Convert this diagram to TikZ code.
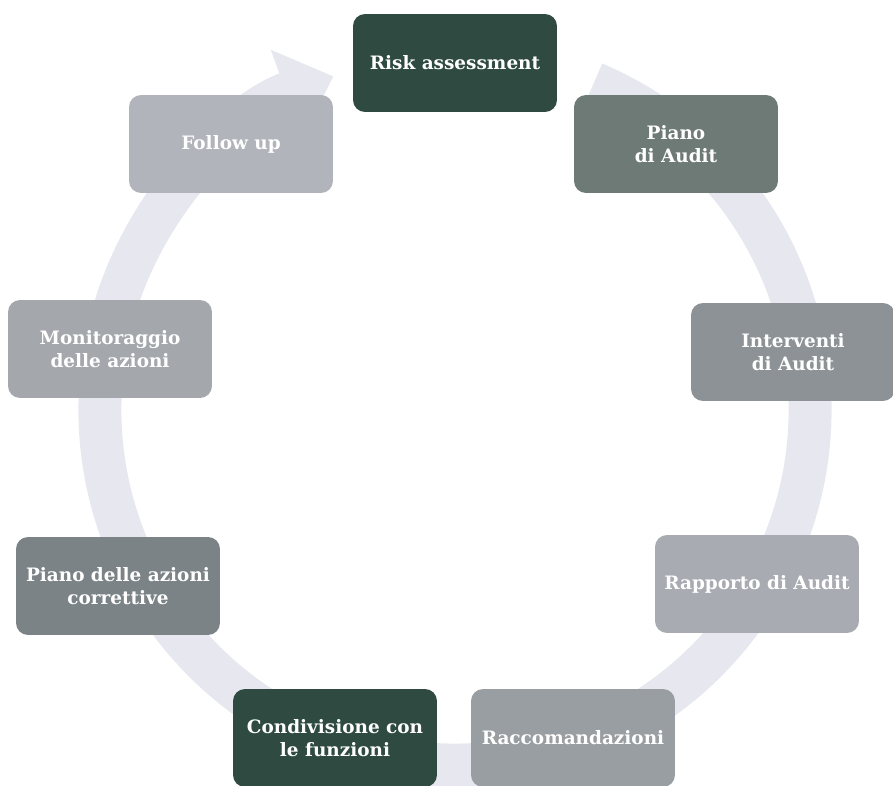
\documentclass[tikz,border=0pt]{standalone}
\usepackage{fontspec}
\setmainfont{DejaVu Serif}
\usetikzlibrary{arrows.meta}
\definecolor{ringgray}{HTML}{E7E8EF}
\definecolor{darkgreen}{HTML}{2E4A41}
\tikzstyle{stage} = [rounded corners=0.24cm, minimum width=4.08cm, minimum height=1.96cm,
  align=center, text=white, font=\bfseries\fontsize{10.5}{13.5}\selectfont]

\begin{document}
\begin{tikzpicture}[x=0.02cm, y=0.02cm]
  \useasboundingbox (0,0) rectangle (893,785);
  % ring behind the stages
  \draw [ringgray, line width=0.86cm, -{Triangle[width=1.8cm, length=1cm]}]
    ([shift={(67:355)}]455,375) arc (67:-250:355);

  \node (risk) [stage, fill=darkgreen] at (455,722) {Risk assessment};
  \node (piano) [stage, fill={rgb,255:red,110;green,122;blue,118}] at (676,641) {Piano\\di Audit};
  \node (interventi) [stage, fill={rgb,255:red,140;green,146;blue,150}] at (793,433) {Interventi\\di Audit};
  \node (rapporto) [stage, fill={rgb,255:red,168;green,171;blue,177}] at (757,201) {Rapporto di Audit};
  \node (raccom) [stage, fill={rgb,255:red,153;green,158;blue,162}] at (573,47) {Raccomandazioni};
  \node (condiv) [stage, fill=darkgreen] at (335,47) {Condivisione con\\le funzioni};
  \node (azioni) [stage, fill={rgb,255:red,123;green,131;blue,134}] at (118,199) {Piano delle azioni\\correttive};
  \node (monitor) [stage, fill={rgb,255:red,164;green,168;blue,173}] at (110,436) {Monitoraggio\\delle azioni};
  \node (follow) [stage, fill={rgb,255:red,177;green,180;blue,186}] at (231,641) {Follow up};
\end{tikzpicture}
\end{document}
